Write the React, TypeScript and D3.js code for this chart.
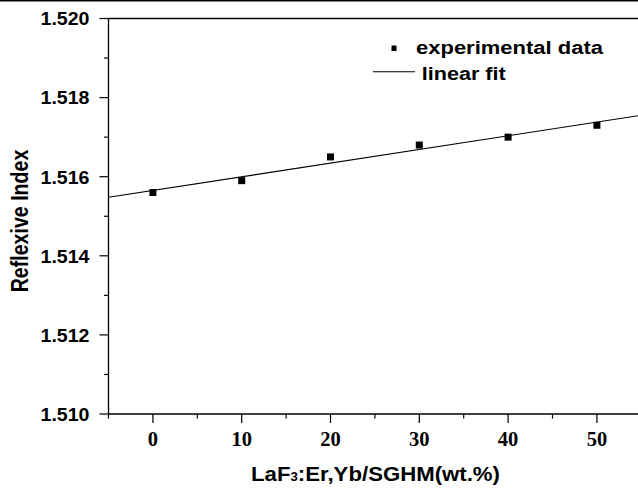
import React from "react";
import * as d3 from "d3";

const concentrations = [0, 10, 20, 30, 40, 50];
const refIndex = [1.5156, 1.5159, 1.5165, 1.5168, 1.517, 1.5173];
const yMajorTicks = [1.51, 1.512, 1.514, 1.516, 1.518, 1.52];
const yMinorTicks = [1.511, 1.513, 1.515, 1.517, 1.519];
const xMajorTicks = [0, 10, 20, 30, 40, 50];
const xMinorTicks = [-5, 5, 15, 25, 35, 45, 55];
const legendLabels = ["experimental data", "linear fit"];
const xTitle = "LaF";
const xTitleSub = "3";
const xTitleRest = ":Er,Yb/SGHM(wt.%)";
const yTitle = "Reflexive Index";

const W = 638;
const H = 488;
const left = 108.5;
const top = 18.5;
const bottom = 414;

export default function App() {
  const x = d3.scaleLinear().domain([-5, 55]).range([left, left + 60 * 8.88]);
  const y = d3.scaleLinear().domain([1.51, 1.52]).range([bottom, top]);

  const xm = d3.mean(concentrations)!;
  const ym = d3.mean(refIndex)!;
  const num = d3.sum(concentrations.map((c, i) => (c - xm) * (refIndex[i] - ym)));
  const den = d3.sum(concentrations.map((c) => (c - xm) * (c - xm)));
  const slope = num / den;
  const intercept = ym - slope * xm;
  const fitX = [-5, 55];
  const fitLine = d3
    .line<number>()
    .x((d) => x(d))
    .y((d) => y(intercept + slope * d))(fitX)!;

  const sans = "'Liberation Sans', Arial, sans-serif";
  const serif = "'Liberation Serif', 'Times New Roman', serif";
  const ms = 7;

  return (
    <svg
      width={W}
      height={H}
      style={{ position: "absolute", left: 0, top: 0, background: "#fff" }}
    >
      <rect x={0} y={0} width={W} height={H} fill="#fff" />
      <line x1={0} x2={W} y1={0.75} y2={0.75} stroke="#000" strokeWidth={1.5} />
      {/* frame */}
      <line x1={left} x2={W} y1={top} y2={top} stroke="#000" strokeWidth={1.3} />
      <line x1={left} x2={W} y1={bottom} y2={bottom} stroke="#000" strokeWidth={1.3} />
      <line x1={left} x2={left} y1={top} y2={bottom} stroke="#000" strokeWidth={1.3} />
      {/* y ticks */}
      {yMajorTicks.map((t) => (
        <g key={"ym" + t}>
          <line x1={left - 9} x2={left} y1={y(t)} y2={y(t)} stroke="#000" strokeWidth={1.2} />
          <text
            x={89.5}
            y={y(t) + 6.8}
            textAnchor="end"
            fontFamily={sans}
            fontWeight="bold"
            fontSize={19}
            textLength={49}
            lengthAdjust="spacingAndGlyphs"
          >
            {t.toFixed(3)}
          </text>
        </g>
      ))}
      {yMinorTicks.map((t) => (
        <line key={"yn" + t} x1={left - 4.5} x2={left} y1={y(t)} y2={y(t)} stroke="#000" strokeWidth={1.2} />
      ))}
      {/* x ticks */}
      {xMajorTicks.map((t) => (
        <g key={"xm" + t}>
          <line x1={x(t)} x2={x(t)} y1={bottom} y2={bottom + 9} stroke="#000" strokeWidth={1.2} />
          <text
            x={x(t)}
            y={bottom + 32}
            textAnchor="middle"
            fontFamily={serif}
            fontWeight="bold"
            fontSize={20.5}
          >
            {t}
          </text>
        </g>
      ))}
      {xMinorTicks.map((t) => (
        <line key={"xn" + t} x1={x(t)} x2={x(t)} y1={bottom} y2={bottom + 4.5} stroke="#000" strokeWidth={1.2} />
      ))}
      {/* fit line */}
      <path d={fitLine} fill="none" stroke="#000" strokeWidth={1.1} />
      {/* points */}
      {concentrations.map((c, i) => (
        <rect
          key={"p" + c}
          x={x(c) - ms / 2}
          y={y(refIndex[i]) - ms / 2}
          width={ms}
          height={ms}
          fill="#000"
        />
      ))}
      {/* legend */}
      <rect x={391.5} y={45.5} width={5} height={5.5} fill="#000" />
      <text
        x={416}
        y={53.5}
        fontFamily={sans}
        fontWeight="bold"
        fontSize={18}
        textLength={187}
        lengthAdjust="spacingAndGlyphs"
      >
        {legendLabels[0]}
      </text>
      <line x1={373} x2={415} y1={71.7} y2={71.7} stroke="#000" strokeWidth={1.1} />
      <text
        x={421.7}
        y={79.5}
        fontFamily={sans}
        fontWeight="bold"
        fontSize={18}
        textLength={84}
        lengthAdjust="spacingAndGlyphs"
      >
        {legendLabels[1]}
      </text>
      {/* x title */}
      <text
        x={251}
        y={481}
        fontFamily={sans}
        fontWeight="bold"
        fontSize={20}
        textLength={249}
        lengthAdjust="spacingAndGlyphs"
      >
        {xTitle}
        <tspan fontSize={12}>{xTitleSub}</tspan>
        <tspan>{xTitleRest}</tspan>
      </text>
      {/* y title */}
      <g transform="translate(28.3,221) scale(1.22,1) rotate(-90)">
        <text x={0} y={0} textAnchor="middle" fontFamily={sans} fontWeight="bold" fontSize={19.6}>
          {yTitle}
        </text>
      </g>
    </svg>
  );
}
